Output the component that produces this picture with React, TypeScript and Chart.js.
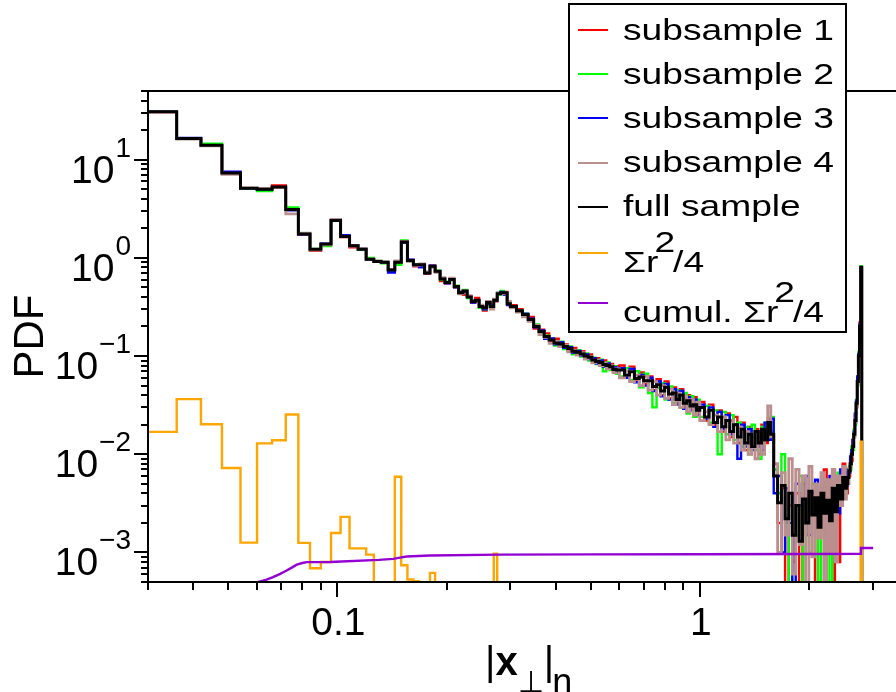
import React, { useEffect, useRef } from 'react';
import { Chart, registerables } from 'chart.js';

Chart.register(...registerables);

// ---------- data ----------
// histogram bin edges (left edges of each bin, plus the final right edge)
const BIN_EDGES = [
  0.030, 0.036, 0.042, 0.048, 0.054, 0.060, 0.066, 0.072, 0.078, 0.084, 0.090, 0.096, 0.102, 0.108, 0.114, 0.120, 0.126, 0.132, 0.138, 0.144, 0.150, 0.156, 0.162, 0.168, 0.174, 0.180, 0.186, 0.192, 0.198, 0.204, 0.210, 0.216, 0.222, 0.228, 0.234, 0.240, 0.246, 0.252, 0.258, 0.264, 0.270, 0.276, 0.282, 0.288, 0.294,
  0.300, 0.312, 0.324, 0.336, 0.348, 0.360, 0.372, 0.384, 0.396, 0.408, 0.420, 0.432, 0.444, 0.456, 0.468, 0.480, 0.492, 0.504, 0.516, 0.528, 0.540, 0.552, 0.564, 0.576, 0.588,
  0.60, 0.62, 0.64, 0.66, 0.68, 0.70, 0.72, 0.74, 0.76, 0.78, 0.80, 0.82, 0.84, 0.86, 0.88, 0.90, 0.92, 0.94, 0.96, 0.98,
  1.00, 1.03, 1.06, 1.09, 1.12, 1.15, 1.18, 1.21, 1.24, 1.27, 1.30, 1.33, 1.36, 1.39, 1.42, 1.45, 1.48, 1.51, 1.54, 1.57,
  1.60, 1.64, 1.68, 1.72, 1.76, 1.80, 1.84, 1.88, 1.92, 1.96, 2.00, 2.04, 2.08, 2.12, 2.16, 2.20, 2.24, 2.28, 2.32, 2.36, 2.40, 2.44, 2.48,
  2.52, 2.54, 2.56, 2.58, 2.60, 2.62, 2.64, 2.66, 2.68, 2.70, 2.72, 2.74, 2.76, 2.78, 2.80,
  2.82,
];

const SUBSAMPLE_1 = [
  30.6, 16.3, 14.0, 7.2, 5.1, 5.0, 5.45, 3.1, 1.73, 1.18, 1.38, 2.42, 1.63, 1.28, 1.22, 0.98, 0.91, 0.89, 0.76, 0.89, 1.44, 0.95, 0.82, 0.86, 0.69, 0.83, 0.72, 0.58, 0.55, 0.61, 0.50, 0.45, 0.42, 0.41, 0.35, 0.39, 0.31, 0.29, 0.36, 0.33, 0.36, 0.43, 0.44, 0.45, 0.35,
  0.33, 0.30, 0.26, 0.25, 0.19, 0.185, 0.17, 0.14, 0.15, 0.128, 0.131, 0.113, 0.121, 0.104, 0.112, 0.094, 0.104, 0.087, 0.095, 0.080, 0.090, 0.076, 0.083, 0.070, 0.079,
  0.080, 0.060, 0.078, 0.055, 0.068, 0.052, 0.062, 0.045, 0.058, 0.040, 0.055, 0.037, 0.048, 0.033, 0.046, 0.030, 0.040, 0.029, 0.038, 0.026,
  0.034, 0.022, 0.032, 0.020, 0.028, 0.017, 0.026, 0.015, 0.024, 0.013, 0.021, 0.011, 0.019, 0.012, 0.018, 0.010, 0.020, 0.013, 0.023, 0.017,
  0.0060, 0.0020, 0.0045, 0, 0.0030, 0.0008, 0.0040, 0, 0.0050, 0.0015, 0.0025, 0.0035, 0, 0.0040, 0.0020, 0.0070, 0.0015, 0.0045, 0, 0.0060, 0.0008, 0.0050, 0.0080,
  0.0050, 0.0040, 0.0065, 0.0060, 0.0090, 0.0085, 0.014, 0.015, 0.025, 0.030, 0.060, 0.09, 0.22, 0.75, 0,
];

const SUBSAMPLE_2 = [
  30.7, 16.5, 14.5, 7.3, 5.05, 4.8, 5.2, 3.25, 1.76, 1.23, 1.32, 2.38, 1.66, 1.34, 1.21, 1.00, 0.93, 0.88, 0.74, 0.85, 1.50, 0.93, 0.86, 0.84, 0.71, 0.81, 0.74, 0.60, 0.57, 0.59, 0.52, 0.44, 0.47, 0.39, 0.37, 0.36, 0.31, 0.30, 0.33, 0.31, 0.38, 0.42, 0.46, 0.43, 0.35,
  0.31, 0.29, 0.27, 0.228, 0.21, 0.17, 0.161, 0.15, 0.128, 0.14, 0.118, 0.125, 0.104, 0.115, 0.099, 0.106, 0.090, 0.096, 0.083, 0.092, 0.070, 0.086, 0.072, 0.079, 0.066,
  0.062, 0.075, 0.057, 0.070, 0.048, 0.066, 0.042, 0.030, 0.047, 0.053, 0.036, 0.049, 0.033, 0.045, 0.030, 0.042, 0.026, 0.039, 0.024, 0.036,
  0.024, 0.031, 0.021, 0.028, 0.010, 0.027, 0.016, 0.025, 0.014, 0.021, 0.012, 0.019, 0.010, 0.020, 0.011, 0.009, 0.019, 0.021, 0.014, 0.024,
  0.0070, 0.0040, 0.0100, 0.0020, 0, 0.0030, 0.0015, 0.0060, 0, 0.0035, 0.0010, 0.0050, 0.0025, 0, 0.0045, 0.0015, 0.0055, 0, 0.0050, 0.0030, 0.0065, 0.0040, 0.0070,
  0.0040, 0.0060, 0.0050, 0.0075, 0.0070, 0.012, 0.011, 0.018, 0.020, 0.036, 0.050, 0.11, 0.19, 0.82, 0,
];

const SUBSAMPLE_3 = [
  30.8, 16.6, 13.9, 7.55, 5.1, 5.0, 5.25, 3.05, 1.74, 1.22, 1.39, 2.41, 1.70, 1.33, 1.23, 0.96, 0.92, 0.90, 0.71, 0.91, 1.43, 0.96, 0.84, 0.80, 0.70, 0.83, 0.72, 0.62, 0.55, 0.60, 0.50, 0.45, 0.45, 0.40, 0.35, 0.37, 0.33, 0.30, 0.34, 0.33, 0.37, 0.44, 0.45, 0.42, 0.33,
  0.315, 0.283, 0.27, 0.24, 0.196, 0.182, 0.150, 0.151, 0.132, 0.138, 0.121, 0.123, 0.108, 0.113, 0.101, 0.104, 0.093, 0.095, 0.084, 0.090, 0.078, 0.084, 0.074, 0.077, 0.069,
  0.075, 0.060, 0.074, 0.054, 0.064, 0.050, 0.060, 0.044, 0.055, 0.039, 0.052, 0.036, 0.046, 0.032, 0.044, 0.029, 0.038, 0.028, 0.036, 0.025,
  0.032, 0.023, 0.030, 0.019, 0.027, 0.018, 0.025, 0.016, 0.020, 0.009, 0.020, 0.012, 0.018, 0.011, 0.017, 0.012, 0.011, 0.021, 0.014, 0.023,
  0.0040, 0.0060, 0.0010, 0.0045, 0.0020, 0, 0.0050, 0.0030, 0.0020, 0.0060, 0.0015, 0.0040, 0.0055, 0.0020, 0.0030, 0.0045, 0.0010, 0.0060, 0.0035, 0.0050, 0.0025, 0.0070, 0.0065,
  0.0055, 0.0048, 0.0070, 0.0065, 0.0095, 0.011, 0.014, 0.017, 0.026, 0.035, 0.062, 0.105, 0.21, 0.78, 0,
];

const SUBSAMPLE_4 = [
  30.5, 16.2, 13.8, 7.1, 5.15, 5.1, 5.2, 2.8, 1.78, 1.20, 1.36, 2.47, 1.64, 1.32, 1.24, 0.97, 0.93, 0.91, 0.76, 0.93, 1.47, 0.92, 0.84, 0.87, 0.72, 0.80, 0.71, 0.63, 0.56, 0.62, 0.51, 0.43, 0.46, 0.41, 0.37, 0.36, 0.33, 0.31, 0.36, 0.30, 0.38, 0.44, 0.43, 0.44, 0.36,
  0.31, 0.28, 0.25, 0.225, 0.205, 0.165, 0.155, 0.135, 0.140, 0.125, 0.128, 0.110, 0.115, 0.102, 0.108, 0.093, 0.099, 0.085, 0.090, 0.080, 0.084, 0.074, 0.080, 0.068, 0.074,
  0.060, 0.070, 0.055, 0.064, 0.050, 0.062, 0.045, 0.055, 0.040, 0.050, 0.037, 0.046, 0.032, 0.042, 0.030, 0.039, 0.027, 0.036, 0.025, 0.034,
  0.022, 0.027, 0.020, 0.025, 0.017, 0.024, 0.014, 0.022, 0.013, 0.019, 0.011, 0.017, 0.010, 0.016, 0.009, 0.016, 0.010, 0.018, 0.031, 0.015,
  0.0080, 0.0010, 0.0065, 0.0015, 0.0090, 0.0006, 0.0070, 0.0012, 0.0060, 0, 0.0075, 0.0009, 0.0050, 0.0014, 0.0065, 0, 0.0055, 0.0010, 0.0070, 0.0008, 0.0060, 0.0030, 0.0075,
  0.0035, 0.0055, 0.0050, 0.0072, 0.0075, 0.0095, 0.012, 0.015, 0.021, 0.031, 0.052, 0.095, 0.19, 0.79, 0,
];

const FULL_SAMPLE = [
  30.7, 16.4, 14.0, 7.3, 5.1, 5.0, 5.25, 3.1, 1.75, 1.22, 1.38, 2.4, 1.65, 1.33, 1.22, 0.97, 0.92, 0.90, 0.75, 0.90, 1.45, 0.94, 0.85, 0.85, 0.70, 0.82, 0.73, 0.61, 0.56, 0.60, 0.51, 0.44, 0.46, 0.40, 0.36, 0.37, 0.32, 0.31, 0.35, 0.32, 0.37, 0.43, 0.44, 0.44, 0.34,
  0.32, 0.29, 0.265, 0.235, 0.20, 0.178, 0.158, 0.146, 0.136, 0.133, 0.125, 0.119, 0.112, 0.109, 0.105, 0.100, 0.097, 0.091, 0.088, 0.086, 0.082, 0.080, 0.078, 0.073, 0.072,
  0.072, 0.064, 0.069, 0.059, 0.061, 0.056, 0.056, 0.049, 0.051, 0.044, 0.048, 0.041, 0.042, 0.036, 0.040, 0.033, 0.035, 0.031, 0.032, 0.028,
  0.030, 0.024, 0.028, 0.021, 0.024, 0.019, 0.022, 0.017, 0.020, 0.015, 0.018, 0.013, 0.016, 0.012, 0.017, 0.013, 0.018, 0.014, 0.021, 0.016,
  0.0060, 0.0032, 0.0048, 0.0022, 0.0040, 0.0015, 0.0030, 0.0013, 0.0035, 0.0020, 0.0042, 0.0024, 0.0036, 0.0018, 0.0040, 0.0025, 0.0034, 0.0021, 0.0045, 0.0026, 0.0048, 0.0035, 0.0058,
  0.0045, 0.0050, 0.0058, 0.0068, 0.0080, 0.010, 0.012, 0.016, 0.022, 0.033, 0.055, 0.10, 0.20, 0.80, 0,
];

// Σr²/4 histogram (own bin edges)
const SIGMA_EDGES = [
  0.030, 0.036, 0.042, 0.048, 0.054, 0.060, 0.066, 0.072, 0.078, 0.084, 0.090, 0.096, 0.102, 0.108, 0.114, 0.120, 0.126,
  0.144, 0.150, 0.156, 0.162, 0.168, 0.180, 0.186, 0.270, 0.276, 2.780, 2.800, 2.820,
];
const SIGMA_VALUES = [
  0.0169, 0.0364, 0.0202, 0.00725, 0.00126, 0.0129, 0.0139, 0.0254, 0.00125, 0.00069, 0.00080, 0.00158, 0.0023, 0.0011, 0.0011, 0.00095,
  0, 0.0059, 0.00074, 0.00053, 0.00051, 0, 0.00062, 0, 0.00097, 0, 0.0134, 0,
];

// cumulative Σr²/4 curve
const CUMUL_X = [0.055, 0.0605, 0.0635, 0.0664, 0.0695, 0.0724, 0.0750, 0.0772, 0.0800, 0.0823, 0.0954, 0.1300, 0.1426, 0.1500, 0.1553, 0.1800, 0.2810, 0.5000, 1.0000, 2.0000, 2.7700, 2.7850, 3.0100];
const CUMUL_Y = [4.2e-4, 5.0e-4, 5.25e-4, 5.6e-4, 6.05e-4, 6.55e-4, 7.05e-4, 7.5e-4, 7.8e-4, 7.96e-4, 8.0e-4, 8.4e-4, 8.6e-4, 8.9e-4, 9.1e-4, 9.3e-4, 9.5e-4, 9.55e-4, 9.6e-4, 9.65e-4, 9.7e-4, 1.11e-3, 1.11e-3];

const SERIES_LABELS = ['subsample 1', 'subsample 2', 'subsample 3', 'subsample 4', 'full sample', 'Σr^2/4', 'cumul. Σr^2/4'];
const SERIES_COLORS = ['#ff0000', '#00ff00', '#0000ff', '#bc8f8f', '#000000', '#ffa500', '#9400d3'];

// axis ranges and ticks
const X_MIN = 0.03;
const X_MAX = 3.48;
const Y_MIN = 5e-4;
const Y_MAX = 50;
const X_MAJOR_TICKS = [0.1, 1];
const X_MAJOR_LABELS = ['0.1', '1'];
const X_MINOR_TICKS = [0.03, 0.04, 0.05, 0.06, 0.07, 0.08, 0.09, 0.2, 0.3, 0.4, 0.5, 0.6, 0.7, 0.8, 0.9, 2, 3];
const Y_MAJOR_EXPONENTS = [-3, -2, -1, 0, 1];
const Y_MINOR_TICKS = [
  5e-4, 6e-4, 7e-4, 8e-4, 9e-4,
  2e-3, 3e-3, 4e-3, 5e-3, 6e-3, 7e-3, 8e-3, 9e-3,
  2e-2, 3e-2, 4e-2, 5e-2, 6e-2, 7e-2, 8e-2, 9e-2,
  0.2, 0.3, 0.4, 0.5, 0.6, 0.7, 0.8, 0.9,
  2, 3, 4, 5, 6, 7, 8, 9,
  20, 30, 40, 50,
];
const Y_TITLE = 'PDF';

// ---------- helpers ----------
const ZERO_FLOOR = 1e-7; // empty bins: drawn below the axis (log scale)
const FONT = '"Liberation Sans", Arial, Helvetica, sans-serif';
const FONT_SYM = '"Liberation Sans", "DejaVu Sans", sans-serif';

function stepData(edges: number[], values: number[]) {
  const pts: { x: number; y: number }[] = [];
  for (let i = 0; i < edges.length; i++) {
    const v = values[Math.min(i, values.length - 1)];
    pts.push({ x: edges[i], y: v > 0 ? v : ZERO_FLOOR });
  }
  return pts;
}

function splitSup(label: string) {
  const idx = label.indexOf('^');
  if (idx < 0) return [{ t: label, sup: false }];
  return [
    { t: label.slice(0, idx), sup: false },
    { t: label.slice(idx + 1, idx + 2), sup: true },
    { t: label.slice(idx + 2), sup: false },
  ];
}

const decorations = {
  id: 'decorations',
  afterDatasetsDraw(chart: any) {
    const { ctx, chartArea: a, scales } = chart;
    const xs = scales.x;
    const ys = scales.y;
    ctx.save();
    ctx.strokeStyle = '#000';
    ctx.fillStyle = '#000';
    ctx.lineWidth = 2;

    // frame (top, left, bottom)
    ctx.beginPath();
    ctx.moveTo(a.right + 4, a.top);
    ctx.lineTo(a.left, a.top);
    ctx.lineTo(a.left, a.bottom);
    ctx.lineTo(a.right + 4, a.bottom);
    ctx.stroke();

    // ticks
    ctx.beginPath();
    X_MAJOR_TICKS.forEach((v) => {
      const px = Math.round(xs.getPixelForValue(v));
      ctx.moveTo(px, a.bottom);
      ctx.lineTo(px, a.bottom + 15);
    });
    X_MINOR_TICKS.forEach((v) => {
      const px = Math.round(xs.getPixelForValue(v));
      ctx.moveTo(px, a.bottom);
      ctx.lineTo(px, a.bottom + 8);
    });
    Y_MAJOR_EXPONENTS.forEach((e) => {
      const py = Math.round(ys.getPixelForValue(Math.pow(10, e)));
      ctx.moveTo(a.left, py);
      ctx.lineTo(a.left - 14, py);
    });
    Y_MINOR_TICKS.forEach((v) => {
      const py = Math.round(ys.getPixelForValue(v));
      ctx.moveTo(a.left, py);
      ctx.lineTo(a.left - 7, py);
    });
    ctx.stroke();

    // x tick labels
    ctx.font = `39px ${FONT}`;
    ctx.textAlign = 'center';
    ctx.textBaseline = 'alphabetic';
    X_MAJOR_TICKS.forEach((v, i) => {
      const px = xs.getPixelForValue(v);
      ctx.fillText(X_MAJOR_LABELS[i], px + 1, a.bottom + 53);
    });

    // y tick labels 10^e
    ctx.textAlign = 'left';
    const rightEdge = a.left - 17;
    Y_MAJOR_EXPONENTS.forEach((e) => {
      const py = ys.getPixelForValue(Math.pow(10, e));
      const expStr = e < 0 ? '\u2212' + Math.abs(e) : String(e);
      ctx.font = `28px ${FONT}`;
      const ew = ctx.measureText(expStr).width;
      const ex = rightEdge - ew;
      ctx.fillText(expStr, ex, py - 3);
      ctx.font = `39px ${FONT}`;
      const bw = ctx.measureText('10').width;
      ctx.fillText('10', ex - bw - 1, py + 23);
    });

    // y title
    ctx.save();
    ctx.translate(43, (a.top + a.bottom) / 2);
    ctx.rotate(-Math.PI / 2);
    ctx.font = `42px ${FONT}`;
    ctx.textAlign = 'center';
    ctx.fillText(Y_TITLE, 0, 0);
    ctx.restore();

    // x title |x_⊥|_n
    let x = 485;
    const base = 675;
    ctx.textAlign = 'left';
    ctx.font = `40px ${FONT}`;
    ctx.fillText('|', x, base);
    x += ctx.measureText('|').width;
    ctx.font = `bold 40px ${FONT}`;
    ctx.fillText('x', x, base);
    x += ctx.measureText('x').width;
    ctx.font = `30px ${FONT_SYM}`;
    ctx.fillText('\u22A5', x, base + 17);
    x += ctx.measureText('\u22A5').width;
    ctx.font = `40px ${FONT}`;
    ctx.fillText('|', x, base);
    x += ctx.measureText('|').width - 2;
    ctx.font = `36px ${FONT}`;
    ctx.fillText('n', x, base + 19);

    ctx.restore();
  },
  afterDraw(chart: any) {
    const { ctx } = chart;
    const box = { l: 569, t: 4, r: 846, b: 332 };
    const lineYs = [30, 74, 118, 163, 207, 253, 303];
    const baseYs = [40, 84, 128, 172, 216, 272, 322];
    const SX = 1.24;
    ctx.save();
    ctx.fillStyle = '#fff';
    ctx.fillRect(box.l, box.t, box.r - box.l, box.b - box.t);
    ctx.strokeStyle = '#000';
    ctx.lineWidth = 2;
    ctx.strokeRect(box.l, box.t, box.r - box.l, box.b - box.t);
    ctx.textAlign = 'left';
    ctx.textBaseline = 'alphabetic';
    SERIES_LABELS.forEach((label, i) => {
      ctx.strokeStyle = SERIES_COLORS[i];
      ctx.lineWidth = 2;
      ctx.beginPath();
      ctx.moveTo(578, lineYs[i]);
      ctx.lineTo(608, lineYs[i]);
      ctx.stroke();
      ctx.fillStyle = '#000';
      ctx.font = `30px ${FONT}`;
      let x = 623;
      const parts = splitSup(label);
      parts.forEach((p, k) => {
        const y = p.sup ? baseYs[i] - 20 : baseYs[i];
        if (p.sup) x -= 4;
        if (k > 0 && !p.sup && parts[k - 1].sup) x -= 2;
        ctx.save();
        ctx.translate(x, y);
        ctx.scale(SX, 1);
        ctx.fillText(p.t, 0, 0);
        ctx.restore();
        x += ctx.measureText(p.t).width * SX;
      });
    });
    ctx.restore();
  },
};

export default function App() {
  const canvasRef = useRef<HTMLCanvasElement | null>(null);

  useEffect(() => {
    const canvas = canvasRef.current;
    if (!canvas) return;
    const subs = [SUBSAMPLE_1, SUBSAMPLE_2, SUBSAMPLE_3, SUBSAMPLE_4, FULL_SAMPLE];
    const orders = [6, 5, 4, 3, 2];
    const widths = [2.4, 2.4, 2.4, 2.8, 3];
    const datasets: any[] = subs.map((vals, i) => ({
      label: SERIES_LABELS[i],
      data: stepData(BIN_EDGES, vals),
      borderColor: SERIES_COLORS[i],
      backgroundColor: SERIES_COLORS[i],
      borderWidth: widths[i],
      stepped: 'before',
      pointRadius: 0,
      fill: false,
      order: orders[i],
      clip: 0,
    }));
    datasets.push({
      label: SERIES_LABELS[5],
      data: stepData(SIGMA_EDGES, SIGMA_VALUES),
      borderColor: SERIES_COLORS[5],
      borderWidth: 2.4,
      stepped: 'before',
      pointRadius: 0,
      fill: false,
      order: 1,
      clip: 0,
    });
    datasets.push({
      label: SERIES_LABELS[6],
      data: CUMUL_X.map((x, i) => ({ x, y: CUMUL_Y[i] })),
      borderColor: SERIES_COLORS[6],
      borderWidth: 2.4,
      pointRadius: 0,
      tension: 0,
      fill: false,
      order: 0,
      clip: 0,
    });

    const chart = new Chart(canvas, {
      type: 'line',
      data: { datasets },
      options: {
        animation: false,
        responsive: false,
        devicePixelRatio: 1,
        layout: { padding: { left: 148, top: 91, right: 0, bottom: 110 } },
        plugins: { legend: { display: false }, tooltip: { enabled: false } },
        scales: {
          x: { type: 'logarithmic', min: X_MIN, max: X_MAX, display: false },
          y: { type: 'logarithmic', min: Y_MIN, max: Y_MAX, display: false },
        },
        elements: { line: { borderJoinStyle: 'miter', borderCapStyle: 'butt' } },
      },
      plugins: [decorations],
    });
    return () => chart.destroy();
  }, []);

  return (
    <div style={{ position: 'absolute', left: 0, top: 0, width: 896, height: 692, background: '#fff' }}>
      <canvas ref={canvasRef} width={896} height={692} style={{ display: 'block' }} />
    </div>
  );
}
